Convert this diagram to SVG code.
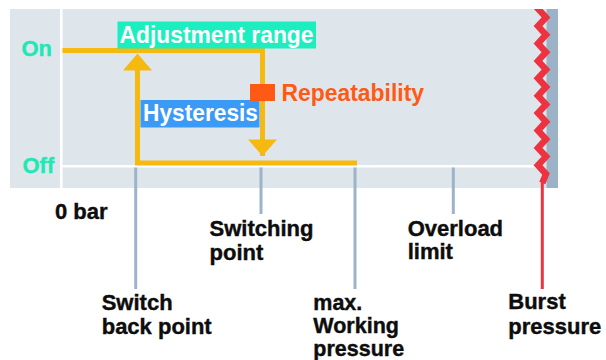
<svg xmlns="http://www.w3.org/2000/svg" width="606" height="360" viewBox="0 0 606 360">
  <style>
    .lbl { font-family: "Liberation Sans", Arial, sans-serif; font-weight: bold; font-size: 22px; fill: #0d0d0d; stroke: #0d0d0d; stroke-width: 0.4; }
    .big { font-family: "Liberation Sans", Arial, sans-serif; font-weight: bold; font-size: 23px; }
    .state { font-family: "Liberation Sans", Arial, sans-serif; font-weight: bold; font-size: 22px; fill: #1ee8b5; stroke: #1ee8b5; stroke-width: 0.4; }
    .tick { stroke: #9db3c7; stroke-width: 3; fill: none; }
    .curve { stroke: #f5b90f; stroke-width: 5; fill: none; stroke-linejoin: miter; }
    .arrow { fill: #f5b90f; }
  </style>

  <!-- chart area -->
  <g id="panel">
    <rect x="10" y="9" width="548" height="179" fill="#dee6ec"/>
    <rect x="546.5" y="9" width="11.5" height="179" fill="#9bb2c7"/>
    <line x1="61.3" y1="9" x2="61.3" y2="188" stroke="#ffffff" stroke-width="2.5"/>
    <line x1="62" y1="166.3" x2="540" y2="166.3" stroke="#ffffff" stroke-width="2.5"/>
  </g>

  <!-- axis states -->
  <g id="state-on"><text class="state" x="21.5" y="56">On</text></g>
  <g id="state-off"><text class="state" x="22.5" y="172.5">Off</text></g>

  <!-- hysteresis label box sits between the two switching lines -->
  <g id="hysteresis">
    <rect x="140.5" y="100" width="119" height="27.5" fill="#3a9af6"/>
    <text class="big" x="143" y="121" fill="#ffffff" textLength="115" lengthAdjust="spacingAndGlyphs">Hysteresis</text>
  </g>

  <!-- switching characteristic -->
  <g id="connectors">
    <path class="curve" d="M62.5,50.5 H262.5 V156"/>
    <path class="curve" d="M137.5,56 V163 H357"/>
    <polygon class="arrow" points="137.5,53.5 152,70.5 123,70.5"/>
    <polygon class="arrow" points="262.5,156 248,139.5 277,139.5"/>
    <!-- pressure markers -->
    <line class="tick" x1="135.7" y1="167.5" x2="135.7" y2="289"/>
    <line class="tick" x1="261" y1="167.5" x2="261" y2="214"/>
    <line class="tick" x1="355" y1="167.5" x2="355" y2="289"/>
    <line class="tick" x1="453.3" y1="167.5" x2="453.3" y2="214"/>
    <line x1="542.3" y1="180" x2="542.3" y2="289" stroke="#ee3340" stroke-width="3"/>
  </g>

  <!-- burst edge -->
  <g id="burst-edge">
    <clipPath id="panelClip"><rect x="0" y="9" width="606" height="179"/></clipPath>
    <polyline clip-path="url(#panelClip)" fill="none" stroke="#ee3340" stroke-width="6.5" stroke-linejoin="miter" stroke-miterlimit="10"
      points="546,0 538,8.7 546,17.4 538,26.1 546,34.8 538,43.5 546,52.2 538,60.9 546,69.6 538,78.3 546,87 538,95.7 546,104.4 538,113.1 546,121.8 538,130.5 546,139.2 538,147.9 546,156.6 538,165.3 546,174 542.3,183"/>
  </g>

  <g id="adjustment-range">
    <rect x="117.5" y="21.5" width="198.5" height="27" fill="#1ceebf"/>
    <text class="big" x="119.5" y="42.5" fill="#ffffff" textLength="194" lengthAdjust="spacingAndGlyphs">Adjustment range</text>
  </g>

  <g id="repeatability">
    <rect x="250" y="84" width="25" height="17" fill="#ff5a14"/>
    <text class="big" x="281.5" y="101" fill="#ff5a14" textLength="142.5" lengthAdjust="spacingAndGlyphs">Repeatability</text>
  </g>

  <!-- pressure labels -->
  <g id="zero"><text class="lbl" x="55" y="219">0 bar</text></g>
  <g id="switching-point"><text class="lbl" x="209.5" y="236"><tspan x="209.5">Switching</tspan><tspan x="209.5" dy="23.5">point</tspan></text></g>
  <g id="switch-back-point"><text class="lbl" x="101.7" y="310"><tspan x="101.7">Switch</tspan><tspan x="101.7" dy="23.5">back point</tspan></text></g>
  <g id="max-working"><text class="lbl" x="313.3" y="309.5" style="font-size:21.5px"><tspan x="313.3">max.</tspan><tspan x="313.3" dy="23.5">Working</tspan><tspan x="313.3" dy="23">pressure</tspan></text></g>
  <g id="overload-limit"><text class="lbl" x="407.7" y="235.5"><tspan x="407.7">Overload</tspan><tspan x="407.7" dy="23.5">limit</tspan></text></g>
  <g id="burst-pressure"><text class="lbl" x="508.3" y="309"><tspan x="508.3">Burst</tspan><tspan x="508.3" dy="24.5">pressure</tspan></text></g>
</svg>
